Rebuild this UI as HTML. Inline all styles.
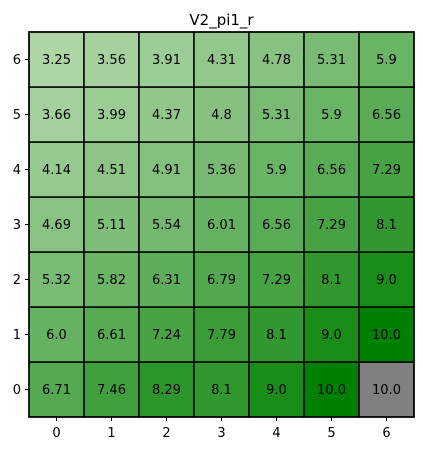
<!DOCTYPE html>
<html><head><meta charset="utf-8"><style>
body{margin:0;background:#fff;font-family:"Liberation Sans","DejaVu Sans",sans-serif}
</style></head><body>
<svg id="chart" width="423" height="451" xmlns="http://www.w3.org/2000/svg" font-family="DejaVu Sans, Liberation Sans, sans-serif">
<text x="221.5" y="25" text-anchor="middle" font-size="15">V2_pi1_r</text>
<g id="cells"></g><g id="axes"></g>
</svg>
<script>
const rowLabels=[0,1,2,3,4,5,6];
const colLabels=[0,1,2,3,4,5,6];
// values[row] with row 0 at bottom
const row0=[6.71,7.46,8.29,8.1,9.0,10.0,10.0];
const row1=[6.0,6.61,7.24,7.79,8.1,9.0,10.0];
const row2=[5.32,5.82,6.31,6.79,7.29,8.1,9.0];
const row3=[4.69,5.11,5.54,6.01,6.56,7.29,8.1];
const row4=[4.14,4.51,4.91,5.36,5.9,6.56,7.29];
const row5=[3.66,3.99,4.37,4.8,5.31,5.9,6.56];
const row6=[3.25,3.56,3.91,4.31,4.78,5.31,5.9];
const values=[row0,row1,row2,row3,row4,row5,row6];
const masked=[[0,6]];
const ns="http://www.w3.org/2000/svg";
const L=29,T=32,S=55,N=7;
const xPos=c=>L+c*S, yPos=r=>T+(N-1-r)*S;
const vmin=3.25,vmax=10;
function color(v){const t=Math.max(0,Math.min(1,(v-vmin)/(vmax-vmin)));
const a=[174,213,166],b=[0,128,0];
return `rgb(${a.map((x,i)=>Math.round(x+(b[i]-x)*t)).join(',')})`;}
const cells=document.getElementById('cells'),axes=document.getElementById('axes');
values.forEach((row,r)=>row.forEach((v,c)=>{
const isM=masked.some(m=>m[0]===r&&m[1]===c);
const rect=document.createElementNS(ns,'rect');


rect.setAttribute('x',xPos(c));rect.setAttribute('y',yPos(r));
rect.setAttribute('width',S);rect.setAttribute('height',S);
rect.setAttribute('fill',isM?'#808080':color(v));
rect.setAttribute('stroke','#000');rect.setAttribute('stroke-width','1.5');
cells.appendChild(rect);
const t=document.createElementNS(ns,'text');


t.setAttribute('x',xPos(c)+S/2);t.setAttribute('y',yPos(r)+S/2+4.5);
t.setAttribute('text-anchor','middle');t.setAttribute('font-size','13');
t.textContent=String(v%1===0?v.toFixed(1):v);
cells.appendChild(t);
}));
const frame=document.createElementNS(ns,'rect');


frame.setAttribute('x',L);frame.setAttribute('y',T);frame.setAttribute('width',S*N);frame.setAttribute('height',S*N);
frame.setAttribute('fill','none');frame.setAttribute('stroke','#000');frame.setAttribute('stroke-width','1.5');
axes.appendChild(frame);
colLabels.forEach((lab,c)=>{
const x=xPos(c)+S/2;
const tk=document.createElementNS(ns,'line');


tk.setAttribute('x1',x);tk.setAttribute('x2',x);tk.setAttribute('y1',T+S*N);tk.setAttribute('y2',T+S*N+4);tk.setAttribute('stroke','#000');
axes.appendChild(tk);
const t=document.createElementNS(ns,'text');


t.setAttribute('x',x);t.setAttribute('y',T+S*N+20);t.setAttribute('text-anchor','middle');t.setAttribute('font-size','13');
t.textContent=lab;axes.appendChild(t);
});
rowLabels.forEach((lab,r)=>{
const y=yPos(r)+S/2;
const tk=document.createElementNS(ns,'line');


tk.setAttribute('x1',L-4);tk.setAttribute('x2',L);tk.setAttribute('y1',y);tk.setAttribute('y2',y);tk.setAttribute('stroke','#000');
axes.appendChild(tk);
const t=document.createElementNS(ns,'text');


t.setAttribute('x',L-8);t.setAttribute('y',y+4.5);t.setAttribute('text-anchor','end');t.setAttribute('font-size','13');
t.textContent=lab;axes.appendChild(t);
});
</script>
</body></html>
